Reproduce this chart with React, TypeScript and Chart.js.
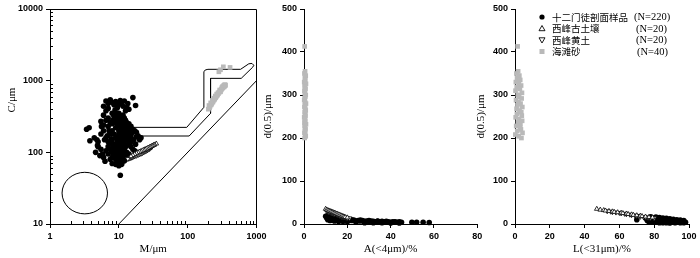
import React, { useEffect, useRef } from "react";
import { Chart, registerables } from "chart.js";

Chart.register(...registerables);

// ---------------- DATA ----------------
// Panel 1 (C-M diagram) — 十二门徒剖面样品
const blackM = [
  6.5, 7, 7.5, 8, 9, 10.5, 11, 12, 13.5, 16, 17.5, 6, 8.5, 11.5, 13, 10, 9.5, 14, 7, 12.5,
  3.4, 3.7, 3.8, 4.8, 5, 5.5, 6, 6.5, 7, 7.5, 4.6, 5.3, 6, 6.3, 7.5, 8, 9, 10.5, 5.5, 4.4,
  8, 8.5, 9, 9.5, 10, 10.5, 11, 11.5, 12, 12.5, 13, 14, 15, 16, 17, 18, 19, 20, 21,
  8, 8.5, 9, 9.5, 10, 10.5, 11, 11.5, 12, 13, 14, 15,
  8, 8.5, 9, 9.5, 10, 10.5, 11, 11.5, 12, 12.5, 13, 14, 15, 16, 17,
  7, 7.5, 8, 8.5, 9, 9.5, 10, 10.5, 11, 11.5, 12, 12.5, 13, 14,
  8, 9, 9.5, 10, 10.5, 11, 11.5, 12, 12.5, 13, 10, 11, 9, 10.5, 11, 12, 9.5, 7, 6.5, 7.5,
  6, 7, 8, 9, 10, 12, 11, 13, 14, 16, 18, 20, 12, 15, 13, 7, 6.5, 8.5,
  10.5, 11.5, 10, 10.5, 11, 9.5, 10, 11, 12,
  5, 5.5, 6, 6.5, 5.8, 6.8, 7.2, 4.9, 5.6, 6.2, 7.8, 8.2, 8.8, 9.2, 9.8, 10.2, 10.8, 11.2, 11.8, 12.2,
  12.8, 13.2, 13.8, 14.5, 15.5, 9.2, 10.2, 11.2, 12.2, 8.8, 9.8, 10.8, 11.8, 7.8, 8.2, 13.5, 14.5, 16.5, 15, 17.5,
];
const blackC = [
  520, 480, 540, 500, 510, 530, 500, 520, 480, 580, 450, 440, 460, 440, 420, 470, 420, 400, 410, 380,
  210, 220, 145, 150, 140, 270, 330, 380, 300, 260, 100, 90, 85, 75, 80, 70, 68, 48, 110, 160,
  350, 320, 300, 280, 350, 310, 290, 330, 300, 280, 260, 250, 230, 210, 200, 190, 170, 160, 160,
  200, 180, 220, 240, 200, 230, 210, 190, 220, 200, 180, 170,
  150, 130, 160, 140, 170, 150, 130, 160, 140, 120, 150, 130, 120, 110, 105,
  120, 110, 100, 115, 95, 105, 110, 95, 100, 90, 105, 95, 100, 95,
  85, 80, 75, 85, 78, 72, 82, 76, 88, 82, 65, 68, 90, 120, 115, 110, 125, 140, 160, 180,
  200, 230, 250, 260, 260, 250, 240, 230, 210, 190, 165, 150, 170, 140, 125, 95, 105, 90,
  100, 110, 130, 140, 150, 160, 180, 175, 185,
  120, 180, 240, 280, 95, 170, 200, 125, 230, 150, 135, 280, 390, 340, 310, 280, 270, 255, 235, 205,
  190, 175, 160, 145, 150, 115, 102, 92, 88, 108, 118, 128, 138, 155, 125, 175, 160, 150, 200, 130,
];

// 西峰古土壤 (up triangles): M = d(0.5)
const triUpM = [35, 33, 32, 31, 30, 29, 28, 27, 26, 25, 24, 23, 22, 21, 20, 19, 18, 17, 16, 15];
const triUpC = [132, 128, 126, 124, 122, 120, 118, 116, 114, 112, 110, 108, 106, 104, 102, 100, 97, 94, 91, 88];
const triUpA = [10, 10.5, 11, 11.5, 12, 12.5, 13, 13.5, 14, 14.5, 15, 15.5, 16, 16.5, 17, 17.5, 18, 18.5, 19, 20];
const triUpL = [47, 49, 51, 52, 54, 56, 57, 59, 61, 62, 64, 65, 67, 68, 70, 72, 73, 75, 77, 79];

// 西峰黄土 (down triangles)
const triDownM = [30, 29, 28, 27, 26, 25, 24, 23, 22, 21, 20, 19, 18, 17, 16, 15.5, 15, 14.5, 14, 13.5];
const triDownC = [118, 116, 112, 110, 107, 105, 103, 100, 98, 96, 94, 92, 90, 88, 86, 85, 84, 83, 82, 81];
const triDownA = [10.5, 11, 11.5, 12, 12.5, 13, 13.5, 14, 15, 15.5, 16, 16.5, 17, 17.5, 18, 18.5, 19, 19.5, 20, 21];
const triDownL = [53, 55, 56, 58, 60, 61, 63, 64, 66, 67, 69, 70, 71, 72, 74, 75, 76, 77, 78, 80];

// 海滩砂 (gray squares): D = d(0.5) = M
const grayD = [
  413, 355, 350, 345, 340, 335, 330, 326, 322, 318, 314, 310, 305, 300, 296, 292, 288, 284, 280, 276,
  272, 268, 264, 260, 256, 252, 248, 244, 240, 236, 232, 228, 224, 220, 216, 212, 208, 204, 200, 300,
];
const grayC = [
  1530, 870, 850, 880, 820, 860, 1560, 800, 830, 780, 800, 760, 740, 1420, 720, 740, 690, 1330, 660, 680,
  640, 620, 650, 600, 580, 610, 560, 540, 570, 520, 500, 530, 480, 460, 490, 440, 420, 450, 400, 700,
];
const grayA = [
  0.3, 0.5, 0.2, 0.8, 0.4, 0.6, 0.1, 0.9, 0.3, 0.5, 0.7, 0.2, 0.4, 0.8, 0.6, 0.3, 0.1, 0.5, 0.9, 0.4,
  0.2, 0.6, 0.8, 0.3, 0.5, 0.7, 0.1, 0.4, 0.6, 0.2, 0.9, 0.3, 0.5, 0.7, 0.4, 0.2, 0.6, 0.8, 0.3, 0.5,
];
const grayL = [
  1.5, 1.8, 0.8, 2.5, 1.2, 3.0, 0.5, 2.2, 3.5, 1.0, 2.8, 0.3, 4.0, 1.6, 2.4, 3.8, 0.6, 2.0, 3.2, 1.4,
  4.2, 0.9, 2.6, 3.6, 1.1, 3.9, 0.4, 2.3, 4.1, 1.7, 3.1, 0.7, 2.9, 3.4, 1.3, 4.3, 0.2, 2.1, 3.7, 1.9,
];

// Panel 2 — 十二门徒 samples: A(<4μm)% vs d(0.5)
const blackA = [
  10, 10.5, 11, 11.5, 12, 12.5, 13, 13.5, 14, 14.5, 15, 15.5, 16, 16.5, 17, 17.5, 18, 18.5, 19, 19.5,
  20, 21, 22, 23, 24, 25, 26, 27, 28, 29, 30, 31, 32, 33, 34, 35, 36, 37, 38, 39,
  40, 41, 42, 43, 44, 45, 49.8, 52, 55, 57.8, 22, 26, 30, 34, 38, 42, 11, 12, 13, 14,
  15, 16, 18, 20, 24, 28, 32, 36, 40, 44,
];
const blackAd = [
  18, 14, 20, 16, 13, 17, 15, 12, 14, 11, 13, 12, 10, 12, 11, 9, 10, 11, 9, 10,
  8, 9, 8, 9, 7, 8, 7, 8, 6, 7, 6, 7, 6, 5, 6, 5, 6, 5, 4, 5,
  4, 5, 4, 4, 5, 4, 4, 4, 4, 3.5, 10, 9, 8, 7, 6, 5, 10, 8, 9, 7,
  8, 6, 6, 5, 4, 3, 3, 3, 2.5, 2.5,
];

// Panel 3 — 十二门徒 samples: L(<31μm)% vs d(0.5)
const blackL = [
  70, 75, 76, 77, 78, 78, 79, 80, 80, 81, 81, 82, 82, 83, 83, 84, 84, 85, 85, 86,
  86, 87, 87, 88, 88, 89, 89, 90, 90, 91, 91, 92, 92, 93, 93, 94, 94, 95, 95, 95,
  96, 96, 97, 97, 97, 98, 81, 83, 85, 87, 89, 79, 77,
];
const blackLd = [
  10, 14, 8, 12, 10, 17, 14, 11, 8, 16, 13, 10, 7, 15, 12, 9, 6, 14, 11, 8,
  5, 13, 10, 7, 4, 12, 9, 6, 4, 11, 8, 5, 3, 10, 7, 4, 6, 9, 5, 3,
  6, 4, 8, 3, 5, 4, 4, 3, 3, 3, 2.5, 6, 5,
];

// Passega field boundaries
const bandM = [16.5, 97, 172, 172, 180, 197, 587, 773, 860, 914, 880, 600, 215, 215, 105, 16.5];
const bandC = [223, 223, 425, 1330, 1410, 1440, 1440, 1720, 1740, 1640, 1540, 1077, 1077, 350, 169, 169];
const cmLineM = [10, 1000];
const cmLineC = [10, 1000];
const circleCenter = [3.2, 27];
const circleRadiusDecades = [0.33, 0.29];

// Ticks
const xLogTicks = [1, 10, 100, 1000];
const yLogTicks = [10, 100, 1000, 10000];

// Legend
const legendLabels = ["十二门徒剖面样品", "西峰古土壤", "西峰黄土", "海滩砂"];
const legendCounts = ["(N=220)", "(N=20)", "(N=20)", "(N=40)"];

// ---------------- STYLE ----------------
const GRAY = "#b9b9b9";
const TICK_FONT = { family: "'Liberation Sans', Arial, sans-serif", size: 9, weight: "bold" };
const TITLE_FONT = { family: "'Liberation Serif', 'Times New Roman', serif", size: 11 };

const pts = (xs: number[], ys: number[]) => xs.map((x, i) => ({ x, y: ys[i] }));

const blackDs = (data: any) => ({
  label: legendLabels[0],
  data,
  pointStyle: "circle",
  pointRadius: 2.8,
  pointBackgroundColor: "#000",
  pointBorderWidth: 0,
  pointBorderColor: "#000",
  order: 1,
  clip: false,
});
const triDs = (data: any, label: string, rot: number) => ({
  label,
  data,
  pointStyle: "triangle",
  pointRotation: rot,
  pointRadius: 2.7,
  pointBackgroundColor: "#fff",
  pointBorderColor: "#000",
  pointBorderWidth: 0.8,
  order: 0,
  clip: false,
});
const grayDs = (data: any) => ({
  label: legendLabels[3],
  data,
  pointStyle: "rect",
  pointRadius: 3.3,
  pointBackgroundColor: GRAY,
  pointBorderWidth: 0,
  pointBorderColor: GRAY,
  order: 2,
  clip: false,
});
const lineDs = (data: any) => ({
  label: "",
  data,
  showLine: true,
  pointRadius: 0,
  borderColor: "#000",
  borderWidth: 1,
  tension: 0,
  fill: false,
  order: 3,
});

const commonOpts = {
  responsive: false,
  animation: false,
  events: [],
  plugins: { legend: { display: false }, tooltip: { enabled: false } },
};

const fitY = (w: number) => (s: any) => {
  s.width = w;
  s.paddingTop = 0;
  s.paddingBottom = 0;
  s.paddingLeft = 0;
  s.paddingRight = 0;
};
const fitX = (h: number) => (s: any) => {
  s.height = h;
  s.paddingLeft = 0;
  s.paddingRight = 0;
  s.paddingTop = 0;
  s.paddingBottom = 0;
};

const axisBase = {
  grid: { display: true, drawOnChartArea: false, drawTicks: true, tickLength: 4, color: "#000", lineWidth: 1 },
  border: { display: true, color: "#000", width: 1 },
};

// ---------- Panel 1 plugin: box, minor ticks, circle, y title ----------
const passegaPlugin = {
  id: "passega",
  beforeDatasetsDraw(chart: any) {
    const { ctx, chartArea, scales } = chart;
    const x = scales.x;
    const y = scales.y;
    ctx.save();
    ctx.strokeStyle = "#000";
    ctx.lineWidth = 1;
    ctx.beginPath();
    ctx.moveTo(chartArea.left, chartArea.top + 0.5);
    ctx.lineTo(chartArea.right, chartArea.top + 0.5);
    ctx.lineTo(chartArea.right, chartArea.bottom);
    ctx.stroke();
    ctx.beginPath();
    for (let d = 0; d < 3; d++) {
      for (let k = 2; k <= 9; k++) {
        const px = Math.round(x.getPixelForValue(k * Math.pow(10, d))) + 0.5;
        ctx.moveTo(px, chartArea.bottom);
        ctx.lineTo(px, chartArea.bottom - 3);
      }
    }
    for (let d = 1; d < 4; d++) {
      for (let k = 2; k <= 9; k++) {
        const py = Math.round(y.getPixelForValue(k * Math.pow(10, d))) + 0.5;
        ctx.moveTo(chartArea.left, py);
        ctx.lineTo(chartArea.left + 3, py);
      }
    }
    ctx.stroke();
    const cx = x.getPixelForValue(circleCenter[0]);
    const cy = y.getPixelForValue(circleCenter[1]);
    const rx = x.getPixelForValue(circleCenter[0] * Math.pow(10, circleRadiusDecades[0])) - cx;
    const ry = cy - y.getPixelForValue(circleCenter[1] * Math.pow(10, circleRadiusDecades[1]));
    ctx.beginPath();
    ctx.ellipse(cx, cy, rx, ry, 0, 0, Math.PI * 2);
    ctx.stroke();
    ctx.restore();
  },
  afterDraw(chart: any) {
    const { ctx } = chart;
    ctx.save();
    ctx.translate(12, 100);
    ctx.rotate(-Math.PI / 2);
    ctx.font = "11px 'Liberation Serif', 'Times New Roman', serif";
    ctx.fillStyle = "#000";
    ctx.textAlign = "center";
    ctx.textBaseline = "middle";
    ctx.fillText("C/μm", 0, 0);
    ctx.restore();
  },
};

// ---------- Panel 3 legend plugin ----------
const LEG_MARK_X = 70;
const LEG_TEXT_X = 80;
const LEG_N_X = [162, 164, 164, 165];
const LEG_Y0 = 17;
const LEG_DY = 11.5;
const legendPlugin = {
  id: "legend3",
  afterDraw(chart: any) {
    const ctx = chart.ctx;
    ctx.save();
    legendLabels.forEach((label, i) => {
      const y = LEG_Y0 + i * LEG_DY;
      const mx = LEG_MARK_X;
      ctx.lineWidth = 0.9;
      ctx.strokeStyle = "#000";
      if (i === 0) {
        ctx.fillStyle = "#000";
        ctx.beginPath();
        ctx.arc(mx, y, 2.6, 0, Math.PI * 2);
        ctx.fill();
      } else if (i === 1) {
        ctx.fillStyle = "#fff";
        ctx.beginPath();
        ctx.moveTo(mx, y - 3);
        ctx.lineTo(mx + 3, y + 2.2);
        ctx.lineTo(mx - 3, y + 2.2);
        ctx.closePath();
        ctx.fill();
        ctx.stroke();
      } else if (i === 2) {
        ctx.fillStyle = "#fff";
        ctx.beginPath();
        ctx.moveTo(mx, y + 3);
        ctx.lineTo(mx + 3, y - 2.2);
        ctx.lineTo(mx - 3, y - 2.2);
        ctx.closePath();
        ctx.fill();
        ctx.stroke();
      } else {
        ctx.fillStyle = GRAY;
        ctx.fillRect(mx - 2.5, y - 2.5, 5, 5);
      }
      ctx.fillStyle = "#000";
      ctx.textBaseline = "middle";
      ctx.textAlign = "left";
      ctx.font = "9.5px 'Noto Sans CJK SC', sans-serif";
      ctx.fillText(label, LEG_TEXT_X, y);
      ctx.font = "10.5px 'Liberation Serif', 'Times New Roman', serif";
      ctx.fillText(legendCounts[i], LEG_N_X[i], y + 0.5);
    });
    ctx.restore();
  },
};

// ---------------- CONFIGS ----------------
function config1() {
  return {
    type: "scatter",
    data: {
      datasets: [
        triDs(pts(triUpM, triUpC), legendLabels[1], 0),
        triDs(pts(triDownM, triDownC), legendLabels[2], 180),
        blackDs(pts(blackM, blackC)),
        grayDs(pts(grayD, grayC)),
        lineDs(pts(bandM, bandC)),
        lineDs(pts(cmLineM, cmLineC)),
      ],
    },
    options: {
      ...commonOpts,
      layout: { padding: { left: 0, top: 9, right: 23.5, bottom: 0 } },
      scales: {
        x: {
          ...axisBase,
          type: "logarithmic",
          min: 1,
          max: 1000,
          afterBuildTicks: (s: any) => {
            s.ticks = xLogTicks.map((v) => ({ value: v }));
          },
          ticks: { callback: (v: any) => String(v), font: TICK_FONT, color: "#000", padding: 3, maxRotation: 0, autoSkip: false },
          title: { display: true, text: "M/μm", font: TITLE_FONT, color: "#000", padding: { top: 0, bottom: 2.4 } },
          afterFit: fitX(34),
        },
        y: {
          ...axisBase,
          type: "logarithmic",
          min: 10,
          max: 10000,
          afterBuildTicks: (s: any) => {
            s.ticks = yLogTicks.map((v) => ({ value: v }));
          },
          ticks: { callback: (v: any) => String(v), font: TICK_FONT, color: "#000", padding: 3, autoSkip: false },
          title: { display: false },
          afterFit: fitY(50),
        },
      },
    },
    plugins: [passegaPlugin],
  };
}

function linearConfig(
  xs: { black: number[]; blackD: number[]; up: number[]; down: number[]; gray: number[] },
  xMax: number,
  xTitle: string,
  yWidth: number,
  padRight: number,
  titlePad: number,
  extraPlugins: any[]
) {
  return {
    type: "scatter",
    data: {
      datasets: [
        triDs(pts(xs.up, triUpM), legendLabels[1], 0),
        triDs(pts(xs.down, triDownM), legendLabels[2], 180),
        blackDs(pts(xs.black, xs.blackD)),
        grayDs(pts(xs.gray, grayD)),
      ],
    },
    options: {
      ...commonOpts,
      layout: { padding: { left: 0, top: 9, right: padRight, bottom: 0 } },
      scales: {
        x: {
          ...axisBase,
          type: "linear",
          min: 0,
          max: xMax,
          ticks: { stepSize: 20, font: TICK_FONT, color: "#000", padding: 3, maxRotation: 0, autoSkip: false },
          title: { display: true, text: xTitle, font: TITLE_FONT, color: "#000", padding: { top: 0, bottom: 2.4 } },
          afterFit: fitX(34),
        },
        y: {
          ...axisBase,
          type: "linear",
          min: 0,
          max: 500,
          ticks: { stepSize: 100, font: TICK_FONT, color: "#000", padding: 3, autoSkip: false },
          title: { display: true, text: "d(0.5)/μm", font: TITLE_FONT, color: "#000", padding: { top: titlePad, bottom: 0 } },
          afterFit: fitY(yWidth),
        },
      },
    },
    plugins: extraPlugins,
  };
}

function Panel({ left, width, build }: { left: number; width: number; build: () => any }) {
  const ref = useRef<HTMLCanvasElement | null>(null);
  useEffect(() => {
    if (!ref.current) return;
    const chart = new Chart(ref.current, build());
    return () => chart.destroy();
  }, []);
  return (
    <canvas
      ref={ref}
      width={width}
      height={258}
      style={{ position: "absolute", left, top: 0, width, height: 258 }}
    />
  );
}

export default function App() {
  return (
    <div style={{ position: "absolute", left: 0, top: 0, width: 700, height: 258, background: "#fff", overflow: "hidden" }}>
      <Panel left={0} width={280} build={config1} />
      <Panel
        left={258}
        width={230}
        build={() =>
          linearConfig(
            { black: blackA, blackD: blackAd, up: triUpA, down: triDownA, gray: grayA },
            80,
            "A(<4μm)/%",
            46,
            10.7,
            3.4,
            []
          )
        }
      />
      <Panel
        left={472}
        width={228}
        build={() =>
          linearConfig(
            { black: blackL, blackD: blackLd, up: triUpL, down: triDownL, gray: grayL },
            100,
            "L(<31μm)/%",
            43,
            11,
            2.4,
            [legendPlugin]
          )
        }
      />
    </div>
  );
}
